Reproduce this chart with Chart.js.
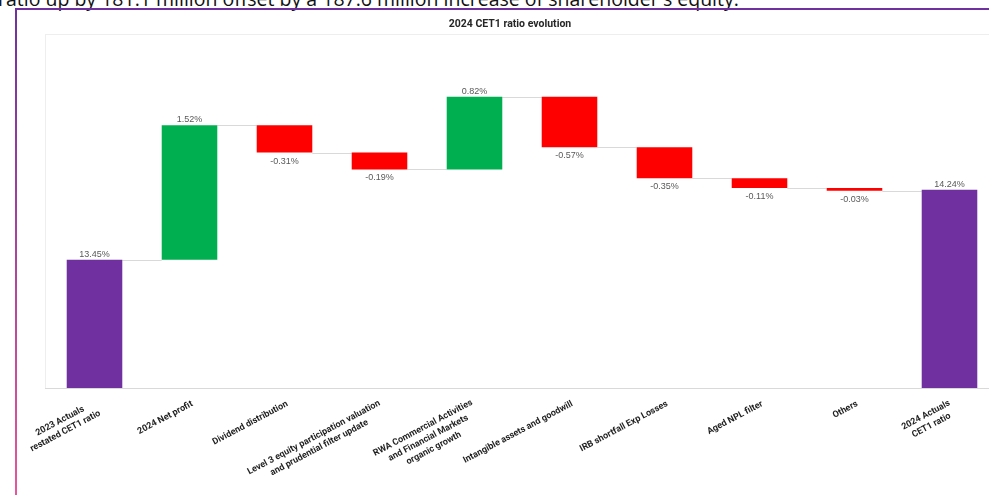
<!DOCTYPE html>
<html>
<head>
<meta charset="utf-8">
<script src="https://cdn.jsdelivr.net/npm/chart.js@4"></script>
<style>
  html, body { margin: 0; padding: 0; width: 989px; height: 495px; overflow: hidden; background: #fff; }
  #lead { position: absolute; left: -2px; top: -15px; font: 19.5px "Open Sans", sans-serif; color: #111; white-space: nowrap; }
  #wrap { position: absolute; left: 0; top: 0; width: 1010px; height: 495px; }
</style>
</head>
<body>
<div id="lead">ratio up by 181.1 million offset by a 187.6 million increase of shareholder's equity.</div>
<div id="wrap"><canvas id="c" width="1010" height="495"></canvas></div>
<script>
// CET1 ratio walk, in percentage points
const categories = [
  ["2023 Actuals", "restated CET1 ratio"],
  "2024 Net profit",
  "Dividend distribution",
  ["Level 3 equity participation valuation", "and prudential filter update"],
  ["RWA Commercial Activities", "and Financial Markets", "organic growth"],
  "Intangible assets and goodwill",
  "IRB shortfall Exp Losses",
  "Aged NPL filter",
  "Others",
  ["2024 Actuals", "CET1 ratio"]
];
const startRatio = 13.45;
const deltas = [1.52, -0.31, -0.19, 0.82, -0.57, -0.35, -0.11, -0.03];
const endRatio = 14.24;
const chartTitle = "2024 CET1 ratio evolution";

const PURPLE = "#7030a0", GREEN = "#00b050", RED = "#ff0000";

// floating ranges for the steps, plain values for the two totals
const barData = [startRatio];
const levels = [startRatio];
const valueLabels = [startRatio.toFixed(2) + "%"];
const colors = [PURPLE];
let running = startRatio;
deltas.forEach(d => {
  const next = +(running + d).toFixed(4);
  barData.push([running, next]);
  levels.push(next);
  valueLabels.push(d.toFixed(2) + "%");
  colors.push(d >= 0 ? GREEN : RED);
  running = next;
});
barData.push(endRatio);
levels.push(endRatio);
valueLabels.push(endRatio.toFixed(2) + "%");
colors.push(PURPLE);

const framePlugin = {
  id: "frame",
  beforeDraw(chart) {
    const { ctx, chartArea: a } = chart;
    ctx.save();
    // outer box: purple top rule, purple-to-pink left rule
    ctx.fillStyle = PURPLE;
    ctx.fillRect(15, 8, 1000, 2);
    const g = ctx.createLinearGradient(0, 8, 0, 495);
    g.addColorStop(0, PURPLE);
    g.addColorStop(1, "#e8559c");
    ctx.fillStyle = g;
    ctx.fillRect(15, 8, 2, 487);
    // plot area outline
    ctx.strokeStyle = "#eeeeee";
    ctx.lineWidth = 1;
    ctx.strokeRect(a.left - 1.5, a.top + 0.5, a.right - a.left + 3, a.bottom - a.top);
    ctx.strokeStyle = "#d9d9d9";
    ctx.beginPath();
    ctx.moveTo(a.left - 2, a.bottom + 0.5);
    ctx.lineTo(a.right + 2, a.bottom + 0.5);
    ctx.stroke();
    // title
    ctx.fillStyle = "#262626";
    ctx.font = "bold 10.5px Roboto";
    ctx.textAlign = "center";
    ctx.textBaseline = "middle";
    ctx.fillText(chartTitle, 510, 24);
    ctx.restore();
  }
};

const walkPlugin = {
  id: "walk",
  beforeDatasetsDraw(chart) {
    // connectors between consecutive bars at the running level
    const { ctx } = chart;
    const y = chart.scales.y;
    const bars = chart.getDatasetMeta(0).data;
    ctx.save();
    ctx.strokeStyle = "#d9d9d9";
    ctx.lineWidth = 1;
    for (let i = 0; i < bars.length - 1; i++) {
      const py = Math.round(y.getPixelForValue(levels[i])) + 0.5;
      ctx.beginPath();
      ctx.moveTo(bars[i].x + bars[i].width / 2, py);
      ctx.lineTo(bars[i + 1].x - bars[i + 1].width / 2, py);
      ctx.stroke();
    }
    ctx.restore();
  },
  afterDatasetsDraw(chart) {
    const { ctx } = chart;
    const bars = chart.getDatasetMeta(0).data;
    ctx.save();
    // value labels: above rises and totals, below falls
    ctx.font = "9px 'Liberation Sans'";
    ctx.fillStyle = "#595959";
    ctx.textAlign = "center";
    bars.forEach((b, i) => {
      const top = Math.min(b.y, b.base), bottom = Math.max(b.y, b.base);
      const falling = i > 0 && i <= deltas.length && deltas[i - 1] < 0;
      if (falling) {
        ctx.textBaseline = "top";
        ctx.fillText(valueLabels[i], b.x, bottom + 4);
      } else {
        ctx.textBaseline = "alphabetic";
        ctx.fillText(valueLabels[i], b.x, top - 3);
      }
    });
    // rotated category labels, lines centred within each block
    const ang = 28 * Math.PI / 180;
    const lineH = 11.5;
    ctx.font = "bold 9px Roboto";
    ctx.fillStyle = "#1f1f1f";
    ctx.textBaseline = "middle";
    ctx.textAlign = "center";
    const xs = chart.scales.x;
    categories.forEach((cat, i) => {
      const lines = Array.isArray(cat) ? cat : [cat];
      const w = Math.max(...lines.map(l => ctx.measureText(l).width));
      const extra = (lines.length - 1) * lineH;
      const tx = xs.getPixelForValue(i);
      const ax = tx + 0.5 - (extra / 2) * Math.sin(ang);
      const ay = 399 - (lines.length - 1) * 0.7;
      ctx.save();
      ctx.translate(ax, ay);
      ctx.rotate(-ang);
      lines.forEach((l, k) => ctx.fillText(l, -w / 2, 5 + k * lineH));
      ctx.restore();
    });
    ctx.restore();
  }
};

new Chart(document.getElementById("c"), {
  type: "bar",
  data: {
    labels: categories,
    datasets: [{
      data: barData,
      backgroundColor: colors,
      borderWidth: 0,
      categoryPercentage: 1,
      barPercentage: 0.585
    }]
  },
  options: {
    responsive: false,
    animation: false,
    layout: { padding: { left: 47, right: 13, top: 34, bottom: 107 } },
    plugins: { legend: { display: false }, title: { display: false }, tooltip: { enabled: false } },
    scales: {
      x: { display: false },
      y: { display: false, min: 12, max: 16 }
    }
  },
  plugins: [framePlugin, walkPlugin]
});
</script>
</body>
</html>
